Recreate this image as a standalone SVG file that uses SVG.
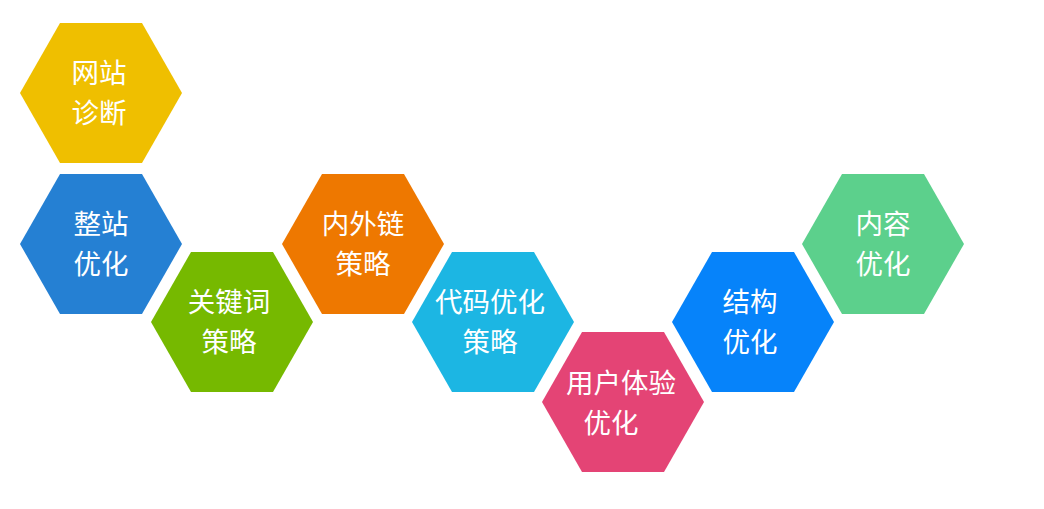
<svg xmlns="http://www.w3.org/2000/svg" width="1044" height="509" viewBox="0 0 1044 509">
<style>
text{font-family:"Noto Sans CJK SC","Microsoft YaHei",sans-serif;font-size:27.5px;fill:#fff;text-anchor:middle}
</style>
<defs>
<polygon id="hex" points="-81,0 -41,-70 41,-70 81,0 41,70 -41,70"/>
</defs>
<rect width="1044" height="509" fill="#fff"/>
<g id="n1" transform="translate(101,93)"><use href="#hex" fill="#EFBF00"/><text x="-2" y="-10">网站</text><text x="-2" y="30">诊断</text></g>
<g id="n2" transform="translate(101,244)"><use href="#hex" fill="#2580D3"/><text x="0" y="-10">整站</text><text x="0" y="30">优化</text></g>
<g id="n3" transform="translate(232,322)"><use href="#hex" fill="#76B900"/><text x="-3" y="-10">关键词</text><text x="-3" y="30">策略</text></g>
<g id="n4" transform="translate(363,244)"><use href="#hex" fill="#EE7800"/><text x="0" y="-10">内外链</text><text x="0" y="30">策略</text></g>
<g id="n5" transform="translate(493,322)"><use href="#hex" fill="#1CB6E3"/><text x="-3" y="-10">代码优化</text><text x="-3" y="30">策略</text></g>
<g id="n6" transform="translate(623,402)"><use href="#hex" fill="#E44475"/><text x="-2" y="-9">用户体验</text><text x="-12" y="31">优化</text></g>
<g id="n7" transform="translate(753,322)"><use href="#hex" fill="#0683FA"/><text x="-3" y="-10">结构</text><text x="-3" y="30">优化</text></g>
<g id="n8" transform="translate(883,244)"><use href="#hex" fill="#5CD08C"/><text x="0" y="-10">内容</text><text x="0" y="30">优化</text></g>
<g id="connectors"></g>
</svg>
